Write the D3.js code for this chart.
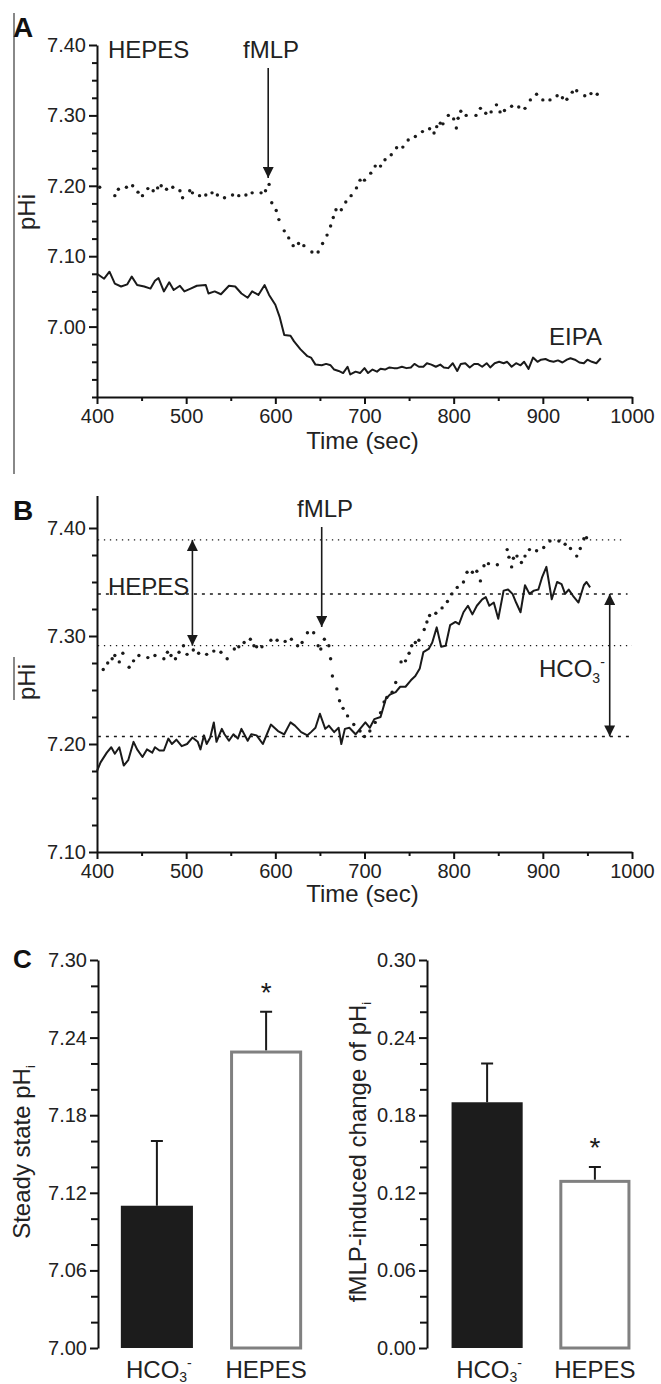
<!DOCTYPE html>
<html>
<head>
<meta charset="utf-8">
<title>fMLP-induced pHi changes</title>
<script src="https://d3js.org/d3.v7.min.js"></script>
<style>
  body { margin: 0; background: #fff; }
  svg { display: block; font-family: "Liberation Sans", Arial, sans-serif; }
  .axis path, .axis line { stroke: #111; stroke-width: 2; }
  .axis text { font-size: 20px; fill: #222; font-family: "Liberation Sans", Arial, sans-serif; }
  .lbl { font-size: 24px; fill: #222; }
  .panel { font-size: 28px; font-weight: bold; fill: #111; }
</style>
</head>
<body>
<div id="chart"></div>
<script>
// ---- panel A : HEPES (dots) and EIPA (solid) ----
const aDotTime = [403,420,424,433,440,446,451,457,463,468,472,478,485,493,496,504,507,515,522,529,535,543,552,559,567,574,584,589,593,596,601,604,610,615,620,626,632,641,648,653,658,662,665,668,674,679,685,691,695,700,707,712,718,723,730,736,743,749,757,765,773,778,781,785,788,794,800,803,805,808,814,825,830,836,842,848,852,857,865,873,880,886,893,900,908,916,922,927,933,938,947,954,961];
const aDotPh = [7.198,7.186,7.195,7.198,7.200,7.191,7.186,7.196,7.193,7.197,7.200,7.195,7.198,7.193,7.183,7.193,7.190,7.186,7.187,7.190,7.187,7.183,7.187,7.186,7.187,7.190,7.190,7.193,7.202,7.176,7.165,7.152,7.136,7.126,7.115,7.118,7.115,7.106,7.106,7.118,7.130,7.143,7.155,7.166,7.166,7.177,7.186,7.197,7.208,7.208,7.218,7.228,7.228,7.237,7.244,7.254,7.255,7.265,7.270,7.277,7.281,7.275,7.284,7.289,7.288,7.300,7.295,7.282,7.296,7.306,7.300,7.300,7.310,7.303,7.305,7.315,7.305,7.307,7.313,7.312,7.310,7.322,7.330,7.322,7.322,7.328,7.325,7.323,7.333,7.335,7.328,7.331,7.330];
const aLineTime = [400,408,414,420,427,434,439,445,453,460,465,469,475,481,486,493,498,505,512,522,525,532,539,548,555,562,569,574,581,588,593,600,605,610,617,621,628,636,640,645,652,657,662,666,671,676,681,684,690,695,700,704,709,714,718,723,728,733,737,742,747,752,756,761,766,770,775,780,785,789,794,799,804,808,813,818,823,827,832,837,841,846,851,856,860,865,870,875,879,884,889,894,898,903,908,912,917,922,927,931,936,941,946,950,955,960,965];
const aLinePh = [7.075,7.068,7.078,7.061,7.057,7.060,7.071,7.059,7.057,7.054,7.065,7.069,7.050,7.063,7.052,7.058,7.050,7.054,7.058,7.059,7.047,7.050,7.046,7.058,7.057,7.047,7.041,7.050,7.045,7.059,7.045,7.031,7.013,6.988,6.987,6.979,6.968,6.958,6.956,6.946,6.945,6.947,6.945,6.939,6.937,6.934,6.943,6.932,6.936,6.934,6.941,6.934,6.939,6.936,6.940,6.939,6.942,6.941,6.941,6.943,6.941,6.942,6.947,6.943,6.943,6.948,6.946,6.943,6.946,6.942,6.941,6.948,6.937,6.947,6.948,6.942,6.947,6.947,6.943,6.948,6.942,6.948,6.950,6.948,6.950,6.943,6.948,6.945,6.950,6.940,6.956,6.950,6.953,6.954,6.951,6.950,6.952,6.949,6.953,6.955,6.953,6.949,6.948,6.953,6.950,6.948,6.955];

// ---- panel B : HEPES (dots) and HCO3- (solid) ----
const bDotTime = [407,412,417,420,425,429,436,441,447,457,465,475,479,483,488,492,497,501,508,514,523,531,539,546,554,559,565,572,576,579,585,595,602,611,618,625,630,636,643,648,651,655,660,662,664,669,672,676,681,688,695,700,706,712,718,722,725,731,735,741,746,750,753,757,761,767,770,773,780,787,793,798,804,811,815,821,826,830,834,839,849,860,862,865,867,871,876,880,885,893,901,908,918,925,931,938,942,946,949];
const bDotPh = [7.269,7.275,7.279,7.282,7.276,7.284,7.271,7.277,7.282,7.280,7.282,7.279,7.285,7.282,7.279,7.285,7.291,7.283,7.287,7.284,7.283,7.286,7.285,7.279,7.288,7.290,7.294,7.297,7.291,7.290,7.290,7.296,7.296,7.295,7.297,7.291,7.294,7.303,7.303,7.291,7.288,7.297,7.291,7.279,7.263,7.251,7.240,7.233,7.226,7.218,7.212,7.207,7.212,7.220,7.229,7.239,7.243,7.248,7.257,7.276,7.277,7.284,7.291,7.294,7.296,7.306,7.313,7.319,7.321,7.326,7.332,7.339,7.345,7.350,7.359,7.359,7.360,7.351,7.365,7.367,7.366,7.380,7.373,7.364,7.372,7.374,7.368,7.374,7.380,7.379,7.382,7.388,7.388,7.385,7.381,7.374,7.381,7.390,7.391];
const bLineTime = [400,404,411,416,420,425,430,435,441,445,451,456,462,465,470,475,480,484,489,495,501,507,513,516,520,523,527,531,534,540,543,548,553,558,562,569,573,579,586,595,603,610,617,622,629,636,640,645,650,656,660,666,671,674,678,683,690,695,701,706,711,718,724,729,735,740,746,752,757,762,766,772,776,781,786,791,796,802,806,811,816,821,826,832,836,840,845,850,856,861,866,870,875,880,885,890,895,899,904,910,916,921,925,929,934,940,946,949,953];
const bLinePh = [7.175,7.183,7.192,7.197,7.191,7.197,7.180,7.185,7.202,7.195,7.188,7.195,7.192,7.197,7.194,7.194,7.205,7.200,7.204,7.198,7.200,7.206,7.202,7.195,7.208,7.200,7.206,7.220,7.202,7.214,7.209,7.203,7.209,7.205,7.214,7.203,7.209,7.208,7.200,7.218,7.212,7.209,7.220,7.217,7.211,7.208,7.211,7.215,7.228,7.214,7.217,7.211,7.215,7.200,7.214,7.215,7.209,7.214,7.220,7.215,7.223,7.225,7.242,7.246,7.248,7.253,7.253,7.259,7.263,7.270,7.285,7.288,7.294,7.308,7.290,7.291,7.310,7.313,7.311,7.322,7.328,7.320,7.328,7.334,7.336,7.328,7.331,7.316,7.342,7.343,7.339,7.331,7.322,7.347,7.339,7.342,7.343,7.354,7.364,7.334,7.350,7.348,7.339,7.343,7.337,7.331,7.347,7.350,7.345];
// reference levels drawn across panel B
const bRefPh = [7.389, 7.339, 7.291, 7.207];
const bRefEnd = [990, 995, 1000, 1000];
const bRefDashed = [false, true, false, true];

// ---- panel C : bar charts ----
const barCats = ["HCO3", "HEPES"];
const steadyMean = [7.11, 7.23];
const steadyErr = [0.05, 0.03];
const changeMean = [0.19, 0.13];
const changeErr = [0.03, 0.01];
const barSig = [false, true];

const timeTicks = [400, 500, 600, 700, 800, 900, 1000];
const timeMinor = [450, 550, 650, 750, 850, 950];
const aTicks = [7.00, 7.10, 7.20, 7.30, 7.40];
const bTicks = [7.10, 7.20, 7.30, 7.40];
const steadyTicks = [7.00, 7.06, 7.12, 7.18, 7.24, 7.30];
const changeTicks = [0.00, 0.06, 0.12, 0.18, 0.24, 0.30];

const width = 661, height = 1384;
const ink = "#1a1a1a";

const svg = d3.select("#chart").append("svg")
  .attr("width", width)
  .attr("height", height);

const defs = svg.append("defs");
defs.append("marker")
  .attr("id", "head")
  .attr("viewBox", "0 0 10 10")
  .attr("refX", 10).attr("refY", 5)
  .attr("markerWidth", 11).attr("markerHeight", 11)
  .attr("markerUnits", "userSpaceOnUse")
  .attr("orient", "auto-start-reverse")
  .append("path").attr("d", "M0,0 L10,5 L0,10 z").attr("fill", ink);

// minor ticks between two scale values, skipping the majors
function minorsOf(lo, hi, step, majors) {
  const out = [];
  for (let v = lo; v <= hi + 1e-9; v += step) {
    const r = Math.round(v * 1000) / 1000;
    if (!majors.some(m => Math.abs(m - r) < 1e-6)) out.push(r);
  }
  return out;
}

function leftAxis(y, x0, majors, minors, fmt, major, minor) {
  svg.append("g").attr("class", "axis")
    .attr("transform", `translate(${x0},0)`)
    .call(d3.axisLeft(y).tickValues(majors).tickFormat(d3.format(fmt))
      .tickSize(major).tickSizeOuter(0).tickPadding(3));
  svg.append("g").attr("class", "axis")
    .attr("transform", `translate(${x0},0)`)
    .call(d3.axisLeft(y).tickValues(minors).tickFormat("").tickSize(minor).tickSizeOuter(0))
    .select(".domain").remove();
}

function timeAxis(x, y0, labelGap, titleGap) {
  svg.append("g").attr("class", "axis")
    .attr("transform", `translate(0,${y0})`)
    .call(d3.axisBottom(x).tickValues(timeTicks).tickFormat(d3.format("d"))
      .tickSize(7).tickSizeOuter(0).tickPadding(labelGap));
  svg.append("g").attr("class", "axis")
    .attr("transform", `translate(0,${y0})`)
    .call(d3.axisBottom(x).tickValues(timeMinor).tickFormat("").tickSize(4).tickSizeOuter(0))
    .select(".domain").remove();
  svg.append("text").attr("class", "lbl")
    .attr("x", (x(400) + x(1000)) / 2 - 2).attr("y", y0 + titleGap)
    .attr("text-anchor", "middle").text("Time (sec)");
}

function dots(x, y, ts, vs) {
  svg.append("g").selectAll("circle")
    .data(ts.map((t, i) => [t, vs[i]]))
    .join("circle")
    .attr("cx", d => x(d[0])).attr("cy", d => y(d[1]))
    .attr("r", 1.7).attr("fill", ink);
}

function trace(x, y, ts, vs) {
  svg.append("path")
    .datum(ts.map((t, i) => [t, vs[i]]))
    .attr("fill", "none").attr("stroke", ink).attr("stroke-width", 2)
    .attr("stroke-linejoin", "round")
    .attr("d", d3.line().x(d => x(d[0])).y(d => y(d[1])));
}

function arrow(x1, y1, x2, y2, both) {
  const l = svg.append("line")
    .attr("x1", x1).attr("y1", y1).attr("x2", x2).attr("y2", y2)
    .attr("stroke", ink).attr("stroke-width", 1.6)
    .attr("marker-end", "url(#head)");
  if (both) l.attr("marker-start", "url(#head)");
}

function vlabel(text, sub, x, y) {
  const t = svg.append("text").attr("class", "lbl")
    .attr("text-anchor", "middle")
    .attr("transform", `translate(${x},${y}) rotate(-90)`)
    .text(text);
  if (sub) t.append("tspan").attr("dy", 5).style("font-size", "13px").text(sub);
}

// gray rule along the left edge of the figure
svg.append("line").attr("x1", 14).attr("x2", 14).attr("y1", 13).attr("y2", 474)
  .attr("stroke", "#888").attr("stroke-width", 2);
svg.append("line").attr("x1", 14).attr("x2", 14).attr("y1", 657).attr("y2", 700)
  .attr("stroke", "#888").attr("stroke-width", 2);

// ================= Panel A =================
const xA = d3.scaleLinear().domain([400, 1000]).range([97, 632]);
const yA = d3.scaleLinear().domain([6.9, 7.4]).range([397, 45]);
leftAxis(yA, 97, aTicks, minorsOf(6.9, 7.4, 0.025, aTicks), ".2f", 8, 5);
timeAxis(xA, 397, 5, 52);
dots(xA, yA, aDotTime, aDotPh);
trace(xA, yA, aLineTime, aLinePh);

svg.append("text").attr("class", "panel").attr("x", 13).attr("y", 37).text("A");
vlabel("pHi", null, 35, 212);
svg.append("text").attr("class", "lbl").attr("x", 108).attr("y", 58).text("HEPES");
svg.append("text").attr("class", "lbl").attr("x", 243).attr("y", 58).text("fMLP");
svg.append("text").attr("class", "lbl").attr("x", 549).attr("y", 345).text("EIPA");
arrow(xA(592), 68, xA(592), 178, false);

// ================= Panel B =================
const xB = d3.scaleLinear().domain([400, 1000]).range([97, 632]);
const yB = d3.scaleLinear().domain([7.1, 7.43]).range([852, 495.6]);
leftAxis(yB, 97, bTicks, minorsOf(7.1, 7.4, 0.025, bTicks), ".2f", 8, 5);
timeAxis(xB, 852, 5, 50);

svg.append("g").selectAll("line")
  .data(bRefPh.map((v, i) => ({ v, end: bRefEnd[i], dashed: bRefDashed[i] })))
  .join("line")
  .attr("x1", xB(401)).attr("x2", d => xB(d.end))
  .attr("y1", d => yB(d.v)).attr("y2", d => yB(d.v))
  .attr("stroke", ink)
  .attr("stroke-width", d => d.dashed ? 1.5 : 1.2)
  .attr("stroke-dasharray", d => d.dashed ? "3,5" : "1.3,4.7");

dots(xB, yB, bDotTime, bDotPh);
trace(xB, yB, bLineTime, bLinePh);

svg.append("text").attr("class", "panel").attr("x", 13).attr("y", 520).text("B");
vlabel("pHi", null, 35, 682);
svg.append("text").attr("class", "lbl").attr("x", 297).attr("y", 517).text("fMLP");
svg.append("text").attr("class", "lbl").attr("x", 108).attr("y", 595).text("HEPES");
const hco = svg.append("text").attr("class", "lbl").attr("x", 539).attr("y", 677).text("HCO");
hco.append("tspan").attr("dy", 6).style("font-size", "14px").text("3");
hco.append("tspan").attr("dy", -16).style("font-size", "14px").text("-");
arrow(xB(652), 527, xB(652), 627, false);
arrow(xB(507), yB(7.291), xB(507), yB(7.389), true);
arrow(xB(975), yB(7.207), xB(975), yB(7.339), true);

// ================= Panel C =================
svg.append("text").attr("class", "panel").attr("x", 13).attr("y", 968)
  .style("font-size", "26px").text("C");

function barPanel(x0, rangeX, yDomain, ticks, minorStep, mean, err, ylab, ylabX) {
  const y = d3.scaleLinear().domain(yDomain).range([1348, 960]);
  const x = d3.scaleBand().domain(barCats).range(rangeX).paddingInner(0.34).paddingOuter(0.2);
  leftAxis(y, x0, ticks, minorsOf(yDomain[0], yDomain[1], minorStep, ticks), ".2f", 8, 7);

  const rows = barCats.map((c, i) => ({ c, m: mean[i], e: err[i], sig: barSig[i], i }));
  const g = svg.append("g");
  // error bars (upper half only)
  g.selectAll(".eb").data(rows).join("path").attr("class", "eb")
    .attr("fill", "none").attr("stroke", ink).attr("stroke-width", 2)
    .attr("d", d => {
      const cx = x(d.c) + x.bandwidth() / 2;
      return `M${cx},${y(d.m)}V${y(d.m + d.e)}M${cx - 6},${y(d.m + d.e)}H${cx + 6}`;
    });
  g.selectAll(".bar").data(rows).join("rect").attr("class", "bar")
    .attr("x", d => x(d.c) + (d.i ? 1.5 : 0))
    .attr("width", d => x.bandwidth() - (d.i ? 3 : 0))
    .attr("y", d => y(d.m) + (d.i ? 1.5 : 0))
    .attr("height", d => y(yDomain[0]) - y(d.m) - (d.i ? 1.5 : 0))
    .attr("fill", d => d.i ? "#fff" : "#1c1c1c")
    .attr("stroke", d => d.i ? "#808080" : "none")
    .attr("stroke-width", 3);
  g.selectAll(".star").data(rows.filter(d => d.sig)).join("text").attr("class", "star")
    .attr("x", d => x(d.c) + x.bandwidth() / 2)
    .attr("y", d => y(d.m + d.e) - 10)
    .attr("text-anchor", "middle").style("font-size", "28px").attr("fill", ink).text("*");

  // category labels
  rows.forEach(d => {
    const t = svg.append("text").attr("class", "lbl")
      .attr("x", x(d.c) + x.bandwidth() / 2 + (d.i ? 0 : 2)).attr("y", 1378)
      .attr("text-anchor", "middle");
    if (d.i) {
      t.text(d.c);
    } else {
      t.text("HCO");
      t.append("tspan").attr("dy", 4).style("font-size", "14px").text("3");
      t.append("tspan").attr("dy", -14).style("font-size", "14px").text("-");
    }
  });
  vlabel(ylab, "i", ylabX, y((yDomain[0] + yDomain[1]) / 2) - 2);
}

barPanel(98, [99, 324], [7.0, 7.3], steadyTicks, 0.02, steadyMean, steadyErr, "Steady state pH", 30);
barPanel(427, [430, 652], [0.0, 0.3], changeTicks, 0.02, changeMean, changeErr, "fMLP-induced change of pH", 366);
</script>
</body>
</html>
